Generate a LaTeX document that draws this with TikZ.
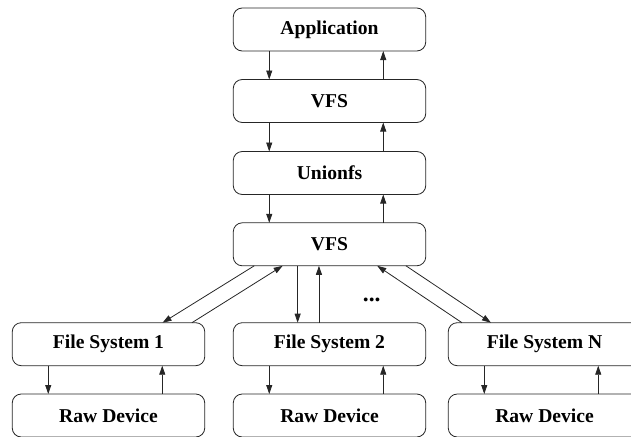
\documentclass[tikz,border=0pt]{standalone}
\usepackage{fontspec}
\newfontfamily\labelfont{Liberation Serif}[BoldFont={Liberation Serif Bold}]
\usetikzlibrary{arrows.meta}
\begin{document}
\begin{tikzpicture}[x=1pt,y=-1pt,
  txt/.style={font=\labelfont\fontsize{19.6}{22}\selectfont\bfseries},
  layer/.style={txt, draw=black!85, line width=0.8pt, rounded corners=9pt,
    minimum width=192.5pt, minimum height=43pt, inner sep=0pt, outer sep=0pt},
  arr/.style={draw=black!85, line width=0.8pt,
    -{Triangle[length=9pt,width=6pt]}}]
\useasboundingbox (0,0) rectangle (631,436);
\clip (0,0) rectangle (631,436);

% central stack
\node[layer] (app)   at (329.5,29.5)  {Application};
\node[layer] (vfsa)  at (329.5,101)   {VFS};
\node[layer] (union) at (329.5,173)   {Unionfs};
\node[layer] (vfsb)  at (329.5,244.3) {VFS};

% lower file systems
\node[layer] (fsa) at (108.5,344.2) {File System 1};
\node[layer] (fsb) at (329.5,344.2) {File System 2};
\node[layer] (fsn) at (544.5,344.2) {File System N};

% raw devices
\node[layer] (rawa) at (108.5,415.5) {Raw Device};
\node[layer] (rawb) at (329.5,415.5) {Raw Device};
\node[layer] (rawn) at (544.5,415.5) {Raw Device};

\node[txt, anchor=base, inner sep=0pt, scale=1.2] (dots) at (371.7,301.5) {...};

% vertical down/up pairs
\foreach \u/\l in {app/vfsa, vfsa/union, union/vfsb, fsa/rawa, fsb/rawb, fsn/rawn}{
  \draw[arr] ([xshift=36]\u.south west) -- ([xshift=36]\l.north west);
  \draw[arr] ([xshift=-42.5]\l.north east) -- ([xshift=-42.5]\u.south east);
}

% VFS to File System 2
\draw[arr] ([xshift=64.4]vfsb.south west) -- ([xshift=64.4]fsb.north west);
\draw[arr] ([xshift=85.7]fsb.north west) -- ([xshift=85.7]vfsb.south west);

% VFS to File System 1
\draw[arr] ([xshift=21]vfsb.south west) -- ([xshift=150.3]fsa.north west);
\draw[arr] ([xshift=179.7]fsa.north west) -- ([xshift=49.4]vfsb.south west);

% VFS to File System N
\draw[arr] ([xshift=13.7]fsn.north west) -- ([xshift=144]vfsb.south west);
\draw[arr] ([xshift=172.7]vfsb.south west) -- ([xshift=42.7]fsn.north west);
\end{tikzpicture}
\end{document}
